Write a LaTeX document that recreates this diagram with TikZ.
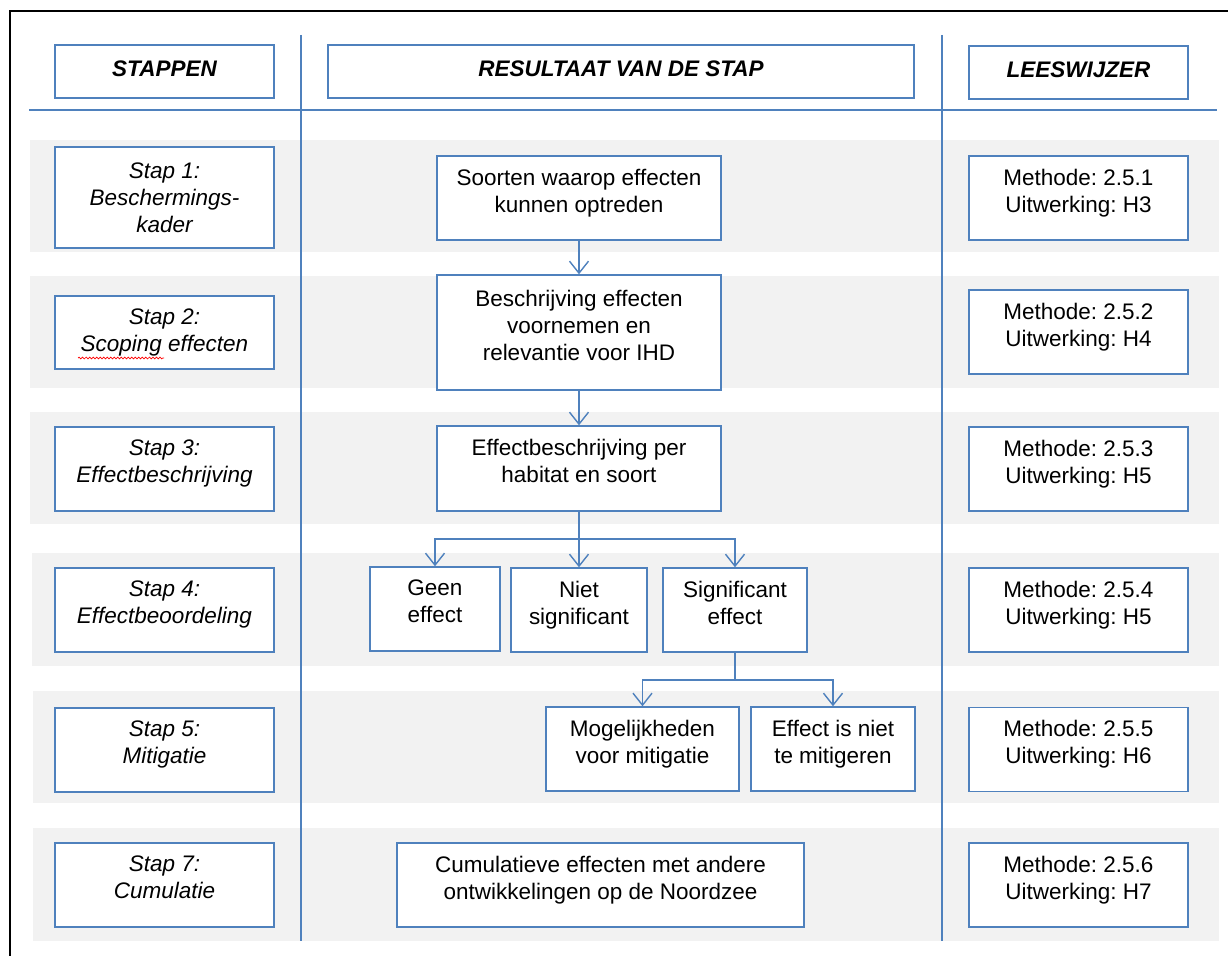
\documentclass[tikz,border=0pt]{standalone}
\usepackage{fontspec}
\setmainfont{Liberation Sans}
\usetikzlibrary{arrows.meta,decorations.pathmorphing}
\definecolor{lijn}{HTML}{4F81BD}
\definecolor{band}{HTML}{F2F2F2}
\frenchspacing

\begin{document}
\begin{tikzpicture}[x=0.02cm, y=-0.02cm,
        box/.style={draw=lijn, line width=0.8pt, fill=white, align=center, inner sep=0pt,
            minimum width=4.38cm, minimum height=1.68cm, text depth=0.3cm,
            font=\fontsize{12.8}{15.4}\selectfont},
        kop/.style={box, minimum height=1.06cm, text depth=0.12cm,
            font=\fontsize{12.8}{15.4}\selectfont\bfseries\itshape},
        stap/.style={box, font=\fontsize{12.8}{15.4}\selectfont\itshape},
        midden/.style={text depth={}},
        lijnstuk/.style={draw=lijn, line width=0.8pt},
        pijl/.style={lijnstuk, -{Straight Barb[length=2.4mm, width=3.8mm]}}]
        \useasboundingbox (0,0) rectangle (1228,956);

        % grijze banden per stap
        \foreach \top/\bot/\lft in {140/252/30, 276/388/30, 412/524/30, 553/666/32, 691/803/33, 828/941/33}
            \fill[band] (\lft,\top) rectangle (1219,\bot);

        \draw[line width=1.6pt] (10,956) -- (10,11) -- (1228,11);
        \draw[lijnstuk] (29,110) -- (1217,110);
        \draw[lijnstuk] (301,35) -- (301,941);
        \draw[lijnstuk] (942,35) -- (942,941);

        % koppen
        \node[kop] (hstap) at (164.5,71.5) {STAPPEN};
        \node[kop, minimum width=11.72cm] (hres) at (621,71.5) {RESULTAAT VAN DE STAP};
        \node[kop] (hlees) at (1078.5,72.5) {LEESWIJZER};

        % stappen
        \node[stap, midden, minimum height=2.02cm] (s1) at (164.5,197.5) {Stap 1:\\Beschermings-\\kader};
        \node[stap, midden, minimum height=1.46cm] (s2) at (164.5,332.5) {Stap 2:\\Scoping effecten};
        \node[stap] (s3) at (164.5,469) {Stap 3:\\Effectbeschrijving};
        \node[stap] (s4) at (164.5,610) {Stap 4:\\Effectbeoordeling};
        \node[stap] (s5) at (164.5,750) {Stap 5:\\Mitigatie};
        \node[stap] (s7) at (164.5,885) {Stap 7:\\Cumulatie};
        \draw[red, line width=0.4pt, decorate, decoration={snake, amplitude=0.5pt, segment length=2pt}] (78,358) -- (164,358);

        % leeswijzer
        \node[box] (r1) at (1078.5,198) {Methode: 2.5.1\\Uitwerking: H3};
        \node[box] (r2) at (1078.5,332) {Methode: 2.5.2\\Uitwerking: H4};
        \node[box] (r3) at (1078.5,469) {Methode: 2.5.3\\Uitwerking: H5};
        \node[box] (r4) at (1078.5,610) {Methode: 2.5.4\\Uitwerking: H5};
        \node[box] (r5) at (1078.5,749.5) {Methode: 2.5.5\\Uitwerking: H6};
        \node[box] (r7) at (1078.5,885) {Methode: 2.5.6\\Uitwerking: H7};

        % resultaten
        \node[box, minimum width=5.68cm] (soorten) at (579,198) {Soorten waarop effecten\\kunnen optreden};
        \node[box, minimum width=5.68cm, minimum height=2.30cm] (beschr) at (579,332.5) {Beschrijving effecten\\voornemen en\\relevantie voor IHD};
        \node[box, minimum width=5.68cm, minimum height=1.70cm] (effbeschr) at (579,468.5) {Effectbeschrijving per\\habitat en soort};
        \node[box, minimum width=2.60cm] (geen) at (435,609) {Geen\\effect};
        \node[box, minimum width=2.72cm] (niet) at (579,610) {Niet\\significant};
        \node[box, minimum width=2.88cm] (sig) at (735,610) {Significant\\effect};
        \node[box, minimum width=3.86cm] (mog) at (642.5,749) {Mogelijkheden\\voor mitigatie};
        \node[box, minimum width=3.28cm] (nietmit) at (833,749) {Effect is niet\\te mitigeren};
        \node[box, minimum width=8.14cm] (cum) at (600.5,885) {Cumulatieve effecten met andere\\ontwikkelingen op de Noordzee};

        \draw[pijl] (soorten) -- (beschr);
        \draw[pijl] (beschr) -- (effbeschr);

        \coordinate (split1) at (579,539);
        \draw[lijnstuk] (effbeschr.south) -- (split1);
        \draw[pijl] (split1) -| (geen.north);
        \draw[pijl] (split1) -- (niet.north);
        \draw[pijl] (split1) -| (sig.north);

        \coordinate (split2) at (735,680);
        \draw[lijnstuk] (sig.south) -- (split2);
        \draw[pijl] (split2) -| (mog.north);
        \draw[pijl] (split2) -| (nietmit.north);
\end{tikzpicture}
\end{document}
